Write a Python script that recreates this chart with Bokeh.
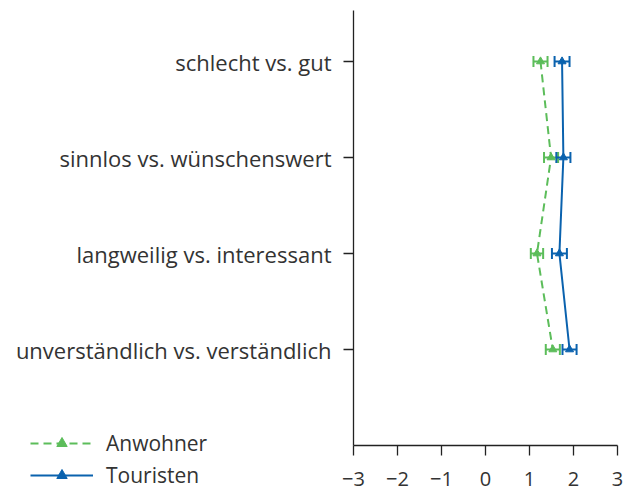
from bokeh.plotting import figure
from bokeh.models import (ColumnDataSource, Whisker, Legend, LegendItem,
                          FixedTicker, Range1d)
from bokeh.embed import file_html
from bokeh.resources import INLINE

categories = ["schlecht vs. gut", "sinnlos vs. wünschenswert",
              "langweilig vs. interessant", "unverständlich vs. verständlich"]
anwohner = [1.25, 1.49, 1.17, 1.53]
anwohner_err = [0.16, 0.16, 0.14, 0.16]
touristen = [1.74, 1.77, 1.68, 1.91]
touristen_err = [0.17, 0.16, 0.17, 0.16]
x_ticks = [-3, -2, -1, 0, 1, 2, 3]
x_tick_labels = ["\u22123", "\u22122", "\u22121", "0", "1", "2", "3"]

green = "#5cbd5a"
blue = "#0a62ae"
font = "Open Sans"
text_color = "#333333"

W, H = 625, 491
PX_X = 44.0        # pixels per x unit
PX_Y = 96.0        # pixels per category step
X0_PAGE = 353      # page x of x = -3
Y0_PAGE = 445      # page y of y = 0

ypos = [len(categories) - i for i in range(len(categories))]

x_start = -3 - X0_PAGE / PX_X
x_end = -3 + (W - X0_PAGE) / PX_X
y_end = Y0_PAGE / PX_Y
y_start = -(H - Y0_PAGE) / PX_Y

p = figure(width=W, height=H, output_backend="svg", toolbar_location=None,
           x_range=Range1d(x_start, x_end), y_range=Range1d(y_start, y_end),
           min_border_left=0, min_border_right=0, min_border_top=0,
           min_border_bottom=0)
p.outline_line_color = None
p.grid.grid_line_color = None
p.background_fill_color = "white"

xa = p.xaxis[0]
ya = p.yaxis[0]
xa.fixed_location = 0
xa.bounds = (-3, 3)
ya.fixed_location = -3
ya.bounds = (0, (Y0_PAGE - 10) / PX_Y)

xa.ticker = FixedTicker(ticks=x_ticks)
xa.major_label_overrides = {t: l for t, l in zip(x_ticks, x_tick_labels)}
ya.ticker = FixedTicker(ticks=ypos)
ya.major_label_overrides = {y: c for y, c in zip(ypos, categories)}
for ax in (xa, ya):
    ax.axis_line_color = "#222222"
    ax.axis_line_width = 1.3
    ax.major_tick_line_color = "#222222"
    ax.major_tick_line_width = 1.3
    ax.major_tick_out = 10
    ax.major_tick_in = 0
    ax.minor_tick_out = 0
    ax.minor_tick_in = 0
    ax.major_label_text_font = font
    ax.major_label_text_color = text_color
xa.major_label_text_font_size = "20px"
ya.major_label_text_font_size = "22px"
xa.major_label_standoff = 16
ya.major_label_standoff = 12

def series(vals, errs, color, dash):
    src = ColumnDataSource(dict(x=vals, y=ypos,
                                lo=[v - e for v, e in zip(vals, errs)],
                                hi=[v + e for v, e in zip(vals, errs)]))
    w = Whisker(source=src, base="y", lower="lo", upper="hi", dimension="width",
                line_color=color, line_width=2)
    for h in (w.upper_head, w.lower_head):
        h.size = 11
        h.line_color = color
        h.line_width = 2
    p.add_layout(w)
    ln = p.line("x", "y", source=src, line_color=color, line_width=2,
                line_dash=dash)
    mk = p.scatter("x", "y", source=src, marker="triangle", size=8,
                   fill_color=color, line_color=color)
    return ln, mk

l1, m1 = series(anwohner, anwohner_err, green, "8 5")
l2, m2 = series(touristen, touristen_err, blue, "solid")

legend = Legend(items=[LegendItem(label="Anwohner", renderers=[l1, m1]),
                       LegendItem(label="Touristen", renderers=[l2, m2])],
                location=(30, 2), orientation="vertical")
legend.label_text_font = font
legend.label_text_font_size = "21px"
legend.label_text_color = text_color
legend.glyph_width = 63
legend.glyph_height = 26
legend.label_height = 26
legend.spacing = 4
legend.padding = 0
legend.margin = 0
legend.label_standoff = 13
legend.border_line_color = None
legend.background_fill_alpha = 0
p.add_layout(legend, "center")

open("out.html", "w").write(file_html(p, INLINE))
